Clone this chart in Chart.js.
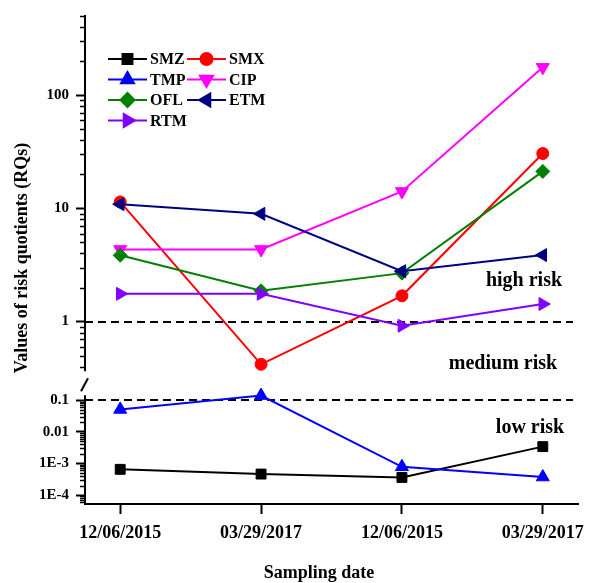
<!DOCTYPE html>
<html>
<head>
<meta charset="utf-8">
<script src="https://cdn.jsdelivr.net/npm/chart.js@4/dist/chart.umd.min.js"></script>
<style>
  html, body { margin: 0; padding: 0; background: #fff; }
  #wrap { width: 595px; height: 583px; }
</style>
</head>
<body>
<div id="wrap"><canvas id="rq" width="595" height="583"></canvas></div>
<script>
// Sampling campaigns (x axis)
const samplingDates = ['12/06/2015', '03/29/2017', '12/06/2015', '03/29/2017'];

// Risk quotients per antibiotic
const smz = [6.5e-4, 4.6e-4, 3.6e-4, 3.4e-3];
const smx = [11.4, 0.42, 1.69, 30.5];
const tmp = [0.051, 0.14, 7.8e-4, 3.7e-4];
const cip = [4.34, 4.34, 14.1, 176];
const ofl = [3.85, 1.87, 2.68, 21.2];
const etm = [10.9, 8.95, 2.79, 3.87];
const rtm = [1.76, 1.76, 0.92, 1.43];

// Labelled ticks of the two log segments
const upperTickValues = [1, 10, 100];
const upperTickLabels = ['1', '10', '100'];
const lowerTickValues = [1e-4, 1e-3, 0.01, 0.1];
const lowerTickLabels = ['1E-4', '1E-3', '0.01', '0.1'];

// Risk thresholds and zone names
const highRiskLimit = 1;
const lowRiskLimit = 0.1;
const zoneNames = ['high risk', 'medium risk', 'low risk'];

const SERIF = '"Liberation Serif", "Times New Roman", Times, serif';
const bold = size => ({ family: SERIF, size: size, weight: 'bold' });

function series(label, values, color, pointStyle, rotation, radius, axis, idx) {
  return {
    label: label,
    data: values.map((v, i) => ({ x: i, y: v })),
    yAxisID: axis,
    borderColor: color,
    backgroundColor: color,
    borderWidth: 2,
    pointStyle: pointStyle,
    rotation: rotation,
    pointRadius: radius,
    pointHoverRadius: radius,
    pointBorderWidth: 1,
    tension: 0,
    order: 10 - idx
  };
}

const datasets = [
  series('SMZ', smz, '#000000', 'rect', 0, 7, 'yLower', 0),
  series('SMX', smx, '#ff0000', 'circle', 0, 6, 'yUpper', 1),
  series('TMP', tmp, '#0000ff', 'triangle', 0, 7.5, 'yLower', 2),
  series('CIP', cip, '#ff00ff', 'triangle', 180, 7.5, 'yUpper', 3),
  series('OFL', ofl, '#008000', 'rectRot', 0, 7, 'yUpper', 4),
  series('ETM', etm, '#000080', 'triangle', -90, 7.5, 'yUpper', 5),
  series('RTM', rtm, '#8000ff', 'triangle', 90, 7.5, 'yUpper', 6)
];

// 1..9 x 10^n ticks inside a range
function decadeTicks(min, max) {
  const out = [];
  const e0 = Math.floor(Math.log10(min)), e1 = Math.ceil(Math.log10(max));
  for (let e = e0; e <= e1; e++) {
    for (let k = 1; k <= 9; k++) {
      const v = parseFloat((k * Math.pow(10, e)).toPrecision(6));
      if (v >= min * 0.9999 && v <= max * 1.0001) out.push({ value: v });
    }
  }
  return out;
}
function isLabelled(value, values) {
  return values.some(t => Math.abs(t - value) / t < 1e-6);
}
function labelFor(values, labels) {
  return function (value) {
    const i = values.findIndex(t => Math.abs(t - value) / t < 1e-6);
    return i >= 0 ? labels[i] : '';
  };
}

const logAxis = (min, max, weight, values, labels) => ({
  type: 'logarithmic',
  position: 'left',
  stack: 'rq',
  stackWeight: weight,
  min: min,
  max: max,
  afterBuildTicks: s => { s.ticks = decadeTicks(s.min, s.max); },
  afterFit: s => { s.width = 85; },
  grid: {
    display: true,
    drawOnChartArea: false,
    drawTicks: true,
    tickLength: 9,
    tickWidth: 2,
    // long marks only at labelled decades; the short ones are added by the plugin
    tickColor: c => (c.tick && isLabelled(c.tick.value, values)) ? '#000' : 'rgba(0,0,0,0)'
  },
  border: { display: true, color: '#000', width: 2 },
  ticks: {
    autoSkip: false,
    padding: 7,
    color: '#000',
    font: bold(15),
    callback: labelFor(values, labels)
  }
});

const decorations = {
  id: 'rqDecorations',
  beforeDatasetsDraw(chart) {
    const { ctx, chartArea: a, scales } = chart;
    ctx.save();
    ctx.strokeStyle = '#000';
    ctx.lineWidth = 2;
    ctx.setLineDash([8, 5]);
    [[scales.yUpper, highRiskLimit], [scales.yLower, lowRiskLimit]].forEach(([s, v]) => {
      const y = Math.round(s.getPixelForValue(v));
      ctx.beginPath();
      ctx.moveTo(a.left, y);
      ctx.lineTo(a.right - 5, y);
      ctx.stroke();
    });
    ctx.setLineDash([]);

    // zone names
    ctx.fillStyle = '#000';
    ctx.font = 'bold 20px ' + SERIF;
    ctx.textAlign = 'center';
    ctx.textBaseline = 'middle';
    const yHigh = scales.yUpper.getPixelForValue(highRiskLimit);
    const yLow = scales.yLower.getPixelForValue(lowRiskLimit);
    ctx.fillText(zoneNames[0], a.right - 54, yHigh - 41);
    ctx.fillText(zoneNames[1], a.right - 75, yHigh + 42);
    ctx.fillText(zoneNames[2], a.right - 48, yLow + 28);
    ctx.restore();
  },
  afterDraw(chart) {
    const { ctx, chartArea: a, scales } = chart;
    ctx.save();

    // short minor tick marks on both log segments
    ctx.strokeStyle = '#000000';
    ctx.lineWidth = 1.5;
    ctx.setLineDash([]);
    [[scales.yUpper, upperTickValues], [scales.yLower, lowerTickValues]].forEach(([s, vals]) => {
      (s.ticks || []).forEach(t => {
        if (isLabelled(t.value, vals)) return;
        const y = Math.round(s.getPixelForValue(t.value)) + 0.5;
        ctx.beginPath();
        ctx.moveTo(a.left - 5, y);
        ctx.lineTo(a.left, y);
        ctx.stroke();
      });
    });

    // axis break between the two segments
    const yb = scales.yUpper.bottom;
    ctx.fillStyle = '#fff';
    ctx.fillRect(a.left - 10, yb - 13, 13, 24);
    ctx.strokeStyle = '#000000';
    ctx.lineWidth = 2;
    ctx.beginPath();
    ctx.moveTo(a.left - 4, yb + 7);
    ctx.lineTo(a.left + 3, yb - 6);
    ctx.stroke();

    // axis titles
    ctx.fillStyle = '#000';
    ctx.font = 'bold 18px ' + SERIF;
    ctx.textAlign = 'center';
    ctx.textBaseline = 'middle';
    ctx.fillText('Sampling date', 319, 573);
    ctx.save();
    ctx.translate(22, 258);
    ctx.rotate(-Math.PI / 2);
    ctx.fillText('Values of risk quotients (RQs)', 0, 0);
    ctx.restore();

    // legend: two columns
    ctx.font = 'bold 16px ' + SERIF;
    ctx.textAlign = 'left';
    chart.data.datasets.forEach((ds, i) => {
      const col = i % 2, row = Math.floor(i / 2);
      const x0 = a.left + (col ? 102 : 23);
      const y = a.top + 43 + row * 20.5;
      ctx.strokeStyle = ds.borderColor;
      ctx.lineWidth = 2;
      ctx.beginPath();
      ctx.moveTo(x0, y);
      ctx.lineTo(x0 + 39, y);
      ctx.stroke();
      ctx.fillStyle = ds.backgroundColor;
      Chart.helpers.drawPoint(ctx, {
        pointStyle: ds.pointStyle,
        rotation: ds.rotation,
        radius: ds.pointRadius,
        borderWidth: 1
      }, x0 + 19.5, y);
      ctx.fillStyle = '#000';
      ctx.fillText(ds.label, x0 + 42, y + 1);
    });
    ctx.restore();
  }
};

new Chart(document.getElementById('rq'), {
  type: 'line',
  data: { datasets: datasets },
  options: {
    responsive: false,
    animation: false,
    layout: { padding: { top: 10, right: 17, left: 0, bottom: 0 } },
    plugins: { legend: { display: false }, tooltip: { enabled: false } },
    scales: {
      x: {
        type: 'linear',
        min: -0.25,
        max: 3.25,
        afterBuildTicks: s => { s.ticks = samplingDates.map((d, i) => ({ value: i })); },
        afterFit: s => { s.height = 79; },
        grid: { display: true, drawOnChartArea: false, drawTicks: true, tickLength: 10, tickWidth: 2, tickColor: '#000' },
        border: { display: true, color: '#000', width: 2 },
        ticks: {
          autoSkip: false,
          maxRotation: 0,
          padding: 9,
          color: '#000',
          font: bold(18),
          callback: v => samplingDates[v] ?? ''
        }
      },
      // stacked log segments; the later-declared scale is placed on top
      yLower: logAxis(5.2e-5, 0.32, 121, lowerTickValues, lowerTickLabels),
      yUpper: logAxis(0.28, 500, 372, upperTickValues, upperTickLabels)
    }
  },
  plugins: [decorations]
});
</script>
</body>
</html>
